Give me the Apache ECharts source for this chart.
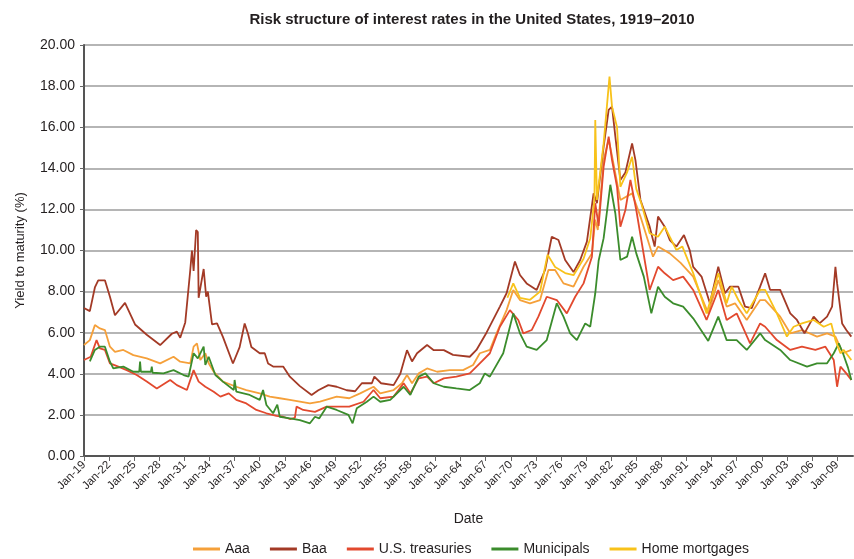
<!DOCTYPE html>
<html>
<head>
<meta charset="utf-8">
<script src="https://cdn.jsdelivr.net/npm/echarts@6/dist/echarts.min.js"></script>
<style>
html,body{margin:0;padding:0;background:#fff;}
#chart{width:854px;height:559px;}
</style>
</head>
<body>
<div id="chart"></div>
<script>
// ---- data (years as decimal, yields in %) ----
const baseYear = 1919;
const tickYears = [1919,1922,1925,1928,1931,1934,1937,1940,1943,1946,1949,1952,1955,1958,1961,1964,1967,1970,1973,1976,1979,1982,1985,1988,1991,1994,1997,2000,2003,2006,2009];

const aaaYears = [1919.0,1919.7,1920.3,1920.9,1921.5,1922.1,1922.7,1923.7,1924.9,1926.5,1928.1,1929.7,1930.5,1931.7,1932.1,1932.5,1932.9,1933.5,1933.9,1934.5,1935.6,1937.2,1938.4,1940.0,1941.2,1942.4,1943.6,1946.0,1947.2,1949.2,1950.7,1952.0,1953.6,1954.4,1956.0,1957.0,1957.6,1958.2,1959.0,1960.0,1961.2,1962.7,1964.3,1965.5,1966.3,1967.5,1968.3,1969.5,1970.3,1971.1,1972.3,1973.5,1974.5,1975.3,1976.3,1977.5,1978.7,1979.7,1980.1,1980.4,1981.1,1981.7,1982.1,1983.1,1984.5,1985.5,1987.0,1987.6,1989.0,1990.3,1991.8,1993.6,1994.8,1995.8,1996.8,1998.2,1999.8,2000.4,2002.2,2003.4,2004.8,2006.6,2007.8,2008.8,2009.7,2010.7];
const aaaValues = [5.40,5.64,6.37,6.21,6.13,5.32,5.07,5.16,4.91,4.75,4.51,4.83,4.59,4.51,5.32,5.48,4.67,5.00,4.51,4.10,3.62,3.37,3.21,3.05,2.89,2.81,2.73,2.56,2.65,2.89,2.81,3.05,3.37,3.05,3.21,3.54,3.94,3.54,4.02,4.26,4.10,4.18,4.18,4.43,5.00,5.16,5.97,7.10,8.08,7.59,7.43,7.59,9.05,9.05,8.40,8.24,9.21,9.86,11.50,11.00,14.40,15.40,14.60,12.46,12.78,11.65,9.70,10.19,9.86,9.40,8.73,6.94,8.56,7.27,7.43,6.62,7.59,7.59,6.78,5.97,6.13,5.81,5.97,5.81,5.00,5.16];

const baaYears = [1919.0,1919.7,1920.3,1920.7,1921.5,1922.1,1922.7,1923.9,1925.1,1926.5,1928.1,1929.5,1930.1,1930.5,1931.1,1931.7,1931.9,1932.1,1932.4,1932.6,1932.7,1933.3,1933.6,1933.8,1934.3,1934.9,1935.6,1936.8,1937.6,1938.2,1938.6,1939.0,1940.0,1940.6,1941.0,1941.6,1942.8,1943.6,1944.8,1946.2,1947.0,1948.2,1949.2,1950.4,1951.4,1952.2,1953.4,1953.7,1954.5,1956.0,1956.8,1957.6,1958.2,1958.8,1960.0,1960.8,1962.0,1963.1,1965.1,1965.9,1967.1,1968.7,1969.5,1970.5,1971.1,1971.9,1973.1,1974.1,1974.9,1975.7,1976.5,1977.5,1978.3,1979.1,1979.9,1980.3,1981.1,1981.7,1982.1,1982.5,1983.1,1983.7,1984.5,1984.9,1985.5,1986.6,1987.2,1987.6,1988.4,1989.0,1989.8,1990.7,1991.4,1991.8,1992.8,1993.8,1994.8,1995.6,1996.2,1997.2,1998.0,1998.8,1999.8,2000.4,2001.0,2002.2,2003.4,2004.2,2005.1,2006.2,2006.9,2007.8,2008.4,2008.8,2009.0,2009.6,2010.1,2010.7];
const baaValues = [7.20,7.05,8.20,8.55,8.55,7.75,6.85,7.45,6.40,5.90,5.40,5.95,6.05,5.75,6.50,9.05,10.00,9.00,11.00,10.90,7.70,9.10,7.75,8.00,6.40,6.45,5.80,4.50,5.30,6.45,5.95,5.30,5.00,5.00,4.50,4.35,4.35,3.86,3.40,2.97,3.20,3.45,3.37,3.20,3.15,3.54,3.54,3.86,3.54,3.45,4.00,5.15,4.60,5.00,5.40,5.15,5.15,4.92,4.83,5.16,6.00,7.27,7.92,9.46,8.81,8.40,8.08,9.05,10.67,10.51,9.54,8.95,9.54,10.43,12.78,12.30,15.05,16.84,17.00,15.54,13.43,13.80,15.21,14.40,12.46,11.16,10.19,11.65,11.16,10.51,10.19,10.75,10.00,9.20,8.73,7.43,9.21,7.92,8.24,8.24,7.27,7.19,8.24,8.89,8.08,8.08,6.94,6.62,5.97,6.78,6.45,6.78,7.27,9.21,8.40,6.45,6.13,5.81];

const tsyYears = [1919.0,1919.8,1920.5,1920.9,1921.5,1922.1,1923.1,1924.1,1925.3,1926.5,1927.7,1929.3,1930.1,1931.3,1932.1,1932.7,1933.5,1934.5,1935.3,1936.3,1937.2,1938.4,1939.6,1940.8,1942.0,1942.8,1943.6,1944.2,1944.4,1945.2,1946.6,1948.0,1949.2,1950.7,1952.4,1953.6,1954.4,1956.0,1957.2,1958.0,1959.0,1960.0,1960.8,1962.0,1963.5,1965.1,1966.3,1967.5,1968.7,1969.9,1970.9,1971.5,1972.5,1973.3,1974.3,1975.5,1976.7,1977.7,1978.7,1979.7,1980.1,1980.5,1981.1,1981.7,1982.1,1982.7,1983.1,1983.7,1984.3,1985.0,1985.6,1986.6,1987.6,1988.4,1989.4,1990.6,1991.8,1993.4,1994.8,1995.8,1997.0,1998.6,1999.8,2000.4,2001.8,2003.4,2004.8,2006.4,2007.6,2008.6,2009.0,2009.4,2010.1,2010.7];
const tsyValues = [4.67,4.83,5.64,5.24,5.16,4.51,4.35,4.18,3.94,3.62,3.29,3.70,3.45,3.21,4.18,3.62,3.37,3.13,2.89,3.05,2.73,2.56,2.24,2.08,1.95,1.91,1.80,1.85,2.40,2.24,2.15,2.40,2.40,2.40,2.64,3.21,2.81,2.89,3.54,3.05,3.78,3.86,3.54,3.78,3.86,4.02,4.51,5.00,6.29,7.10,6.62,5.97,6.13,6.78,7.75,7.59,6.94,7.75,8.40,9.70,12.30,11.20,14.08,15.54,14.40,13.10,11.16,11.97,13.43,11.97,10.51,8.08,9.21,8.89,8.56,8.73,8.08,6.62,8.08,6.62,6.94,5.48,6.45,6.29,5.64,5.16,5.32,5.16,5.32,4.67,3.37,4.35,4.02,3.70];

const muniYears = [1919.7,1920.3,1920.9,1921.5,1922.1,1922.5,1923.7,1924.9,1925.6,1925.7,1925.8,1927.0,1927.1,1927.2,1928.5,1929.7,1930.9,1931.5,1932.1,1932.6,1933.3,1933.5,1933.9,1934.7,1935.6,1936.9,1937.0,1937.2,1938.8,1940.0,1940.4,1940.8,1941.6,1942.1,1942.4,1943.6,1944.8,1946.0,1946.6,1947.1,1948.0,1949.2,1950.6,1951.1,1951.6,1952.8,1953.6,1954.4,1955.6,1957.2,1958.0,1959.0,1959.8,1960.8,1962.0,1963.5,1965.1,1966.3,1966.9,1967.5,1969.1,1969.9,1970.3,1971.1,1971.9,1973.1,1974.3,1975.5,1976.3,1977.1,1977.9,1978.9,1979.5,1980.1,1980.5,1981.1,1981.9,1982.5,1983.1,1983.9,1984.5,1985.0,1985.9,1986.8,1987.6,1988.4,1989.4,1990.6,1991.8,1993.6,1994.8,1995.8,1997.0,1998.2,1999.8,2000.4,2002.2,2003.4,2005.4,2006.6,2007.8,2008.6,2009.2,2009.7,2010.3,2010.7];
const muniValues = [4.60,5.16,5.32,5.32,4.59,4.26,4.35,4.10,4.10,4.60,4.10,4.10,4.35,4.05,4.02,4.18,3.94,3.86,5.00,4.75,5.32,4.43,4.83,3.94,3.62,3.21,3.70,3.13,2.97,2.73,3.21,2.48,2.08,2.50,1.91,1.83,1.75,1.59,1.91,1.83,2.40,2.24,2.00,1.59,2.32,2.64,2.89,2.64,2.73,3.37,2.97,3.86,4.02,3.54,3.37,3.29,3.21,3.54,4.02,3.86,5.00,6.29,6.94,5.97,5.32,5.16,5.64,7.43,6.78,5.97,5.64,6.45,6.29,7.92,9.50,10.60,13.20,11.80,9.54,9.70,10.67,9.86,8.73,6.94,8.24,7.75,7.43,7.27,6.70,5.60,6.78,5.64,5.64,5.16,5.97,5.64,5.16,4.67,4.35,4.51,4.51,5.00,5.48,5.00,4.30,3.70];

const mortYears = [1969.6,1970.3,1971.1,1972.3,1973.5,1974.4,1975.3,1976.5,1977.5,1978.7,1979.5,1980.0,1980.1,1980.3,1981.1,1981.8,1982.1,1982.7,1983.1,1983.9,1984.5,1985.0,1985.6,1986.6,1987.6,1988.4,1989.0,1989.8,1990.5,1991.8,1993.4,1994.8,1995.8,1996.4,1997.2,1998.2,1999.8,2000.4,2001.8,2003.0,2003.8,2004.8,2006.2,2007.4,2008.3,2008.8,2009.4,2009.8,2010.7];
const mortValues = [7.70,8.40,7.70,7.60,8.00,9.80,9.20,8.90,8.80,9.60,10.60,12.50,16.35,12.46,15.21,18.46,17.00,16.00,13.10,13.80,14.56,13.00,12.30,10.84,10.67,11.16,10.67,10.02,10.20,8.90,6.94,8.89,7.43,8.24,7.59,6.94,8.08,8.08,6.94,5.81,6.29,6.45,6.62,6.29,6.45,5.64,5.00,5.16,4.67];

const seriesNames = ['Aaa','Baa','U.S. treasuries','Municipals','Home mortgages'];
const seriesColors = ['#f5a03a','#a33a26','#e2492e','#3b8c2c','#f8c21a'];
const seriesYears = [aaaYears, baaYears, tsyYears, muniYears, mortYears];
const seriesValues = [aaaValues, baaValues, tsyValues, muniValues, mortValues];

const textColor = '#231f20';
const chart = echarts.init(document.getElementById('chart'), null, {renderer:'canvas'});

const series = seriesNames.map((name, k) => ({
  name: name,
  type: 'line',
  symbol: 'none',
  smooth: false,
  data: seriesYears[k].map((y, i) => [y - baseYear, seriesValues[k][i]]),
  lineStyle: {color: seriesColors[k], width: 1.8},
  itemStyle: {color: seriesColors[k]},
  emphasis: {disabled: true}
}));

const tickSet = new Set(tickYears.map(y => y - baseYear));

chart.setOption({
  animation: false,
  backgroundColor: '#ffffff',
  title: {
    text: 'Risk structure of interest rates in the United States, 1919\u20132010',
    left: 467,
    textAlign: 'center',
    top: 7,
    textStyle: {fontFamily: 'Liberation Sans', fontSize: 15, fontWeight: 'bold', color: textColor}
  },
  grid: {left: 84, right: 1, top: 45, bottom: 103, containLabel: false},
  legend: {
    data: seriesNames,
    left: 188,
    top: 537,
    icon: 'rect',
    itemWidth: 27,
    itemHeight: 3,
    itemGap: 20,
    textStyle: {fontFamily: 'Liberation Sans', fontSize: 14, color: textColor}
  },
  xAxis: {
    type: 'value',
    min: 0,
    max: 91.9,
    interval: 3,
    name: 'Date',
    nameLocation: 'middle',
    nameGap: 56,
    nameTextStyle: {fontFamily: 'Liberation Sans', fontSize: 14, color: textColor},
    axisLine: {show: true, lineStyle: {color: '#555', width: 2}},
    axisTick: {show: true, length: 5, lineStyle: {color: '#666', width: 1}},
    splitLine: {show: false},
    axisLabel: {
      rotate: 45,
      margin: 7,
      showMaxLabel: false,
      fontFamily: 'Liberation Sans',
      fontSize: 11.5,
      color: textColor,
      formatter: function (v) {
        const r = Math.round(v);
        if (Math.abs(v - r) > 1e-6 || !tickSet.has(r)) return '';
        const yy = (baseYear + r) % 100;
        return 'Jan-' + (yy < 10 ? '0' + yy : '' + yy);
      }
    }
  },
  yAxis: {
    type: 'value',
    min: 0,
    max: 20,
    interval: 2,
    name: 'Yield to maturity (%)',
    nameLocation: 'middle',
    nameGap: 57,
    nameTextStyle: {fontFamily: 'Liberation Sans', fontSize: 13, color: textColor},
    axisLine: {show: true, lineStyle: {color: '#555', width: 2}},
    axisTick: {show: true, length: 4, lineStyle: {color: '#666'}},
    splitLine: {show: true, lineStyle: {color: '#9d9d9d', width: 1.5}},
    axisLabel: {
      margin: 9,
      fontFamily: 'Liberation Sans',
      fontSize: 14,
      color: textColor,
      formatter: v => v.toFixed(2)
    }
  },
  series: series
});
</script>
</body>
</html>
